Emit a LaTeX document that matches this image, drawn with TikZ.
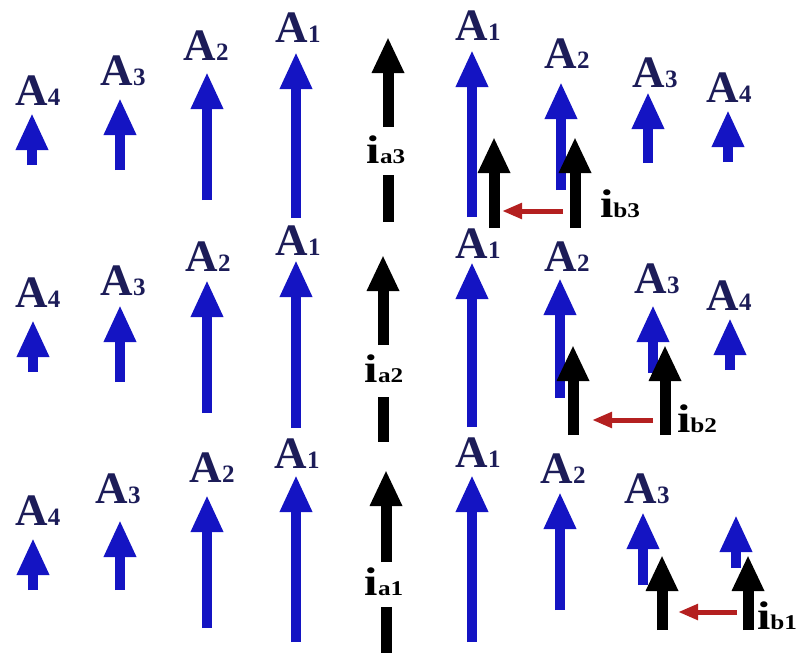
\documentclass[tikz,border=0pt]{standalone}
\usepackage{fontspec}
\setmainfont{Liberation Serif}
\usepackage{graphicx}
\usetikzlibrary{arrows.meta}

\definecolor{vecblue}{RGB}{20,20,195}
\definecolor{labnavy}{RGB}{28,28,88}
\definecolor{shiftred}{RGB}{180,32,32}

\newcommand{\Alab}[1]{A{\fontsize{25}{25}\selectfont #1}}
\newcommand{\ilab}[2]{\scalebox{1.2}[1]{\fontsize{40}{40}\selectfont i{\fontsize{21}{21}\selectfont #1#2}}}

\begin{document}
\begin{tikzpicture}[
  x=1pt, y=-1pt,
  vec/.style={draw=vecblue, line width=10pt, -{Triangle[length=37pt,width=30pt]}},
  cur/.style={draw=black, line width=11pt, -{Triangle[length=36pt,width=30pt]}},
  seg/.style={draw=black, line width=11pt},
  shiftarrow/.style={draw=shiftred, line width=5pt, -{Triangle[length=20pt,width=15pt]}},
  alab/.style={text=labnavy, font=\bfseries\fontsize{45}{45}\selectfont, anchor=base, inner sep=0pt},
  ilab/.style={text=black, font=\bfseries, anchor=base, inner sep=0pt}
]
\useasboundingbox (0,0) rectangle (805,653);

% top row
\draw[vec] (32,165)  -- (32,113);
\draw[vec] (120,170) -- (120,98);
\draw[vec] (207,200) -- (207,72);
\draw[vec] (296,218) -- (296,52);
\draw[vec] (472,217) -- (472,50);
\draw[vec] (561,190) -- (561,82);
\draw[vec] (648,163) -- (648,92);
\draw[vec] (728,162) -- (728,110);
\draw[cur] (388,127) -- (388,37);
\draw[seg] (388,175) -- (388,222);
\draw[cur] (494,228) -- (494,137);
\draw[cur] (575,228) -- (575,137);
\draw[shiftarrow] (563,211) -- (502,211);

\node[alab] (tA4l) at (38,105)  {\Alab{4}};
\node[alab] (tA3l) at (123,85)  {\Alab{3}};
\node[alab] (tA2l) at (206,60)  {\Alab{2}};
\node[alab] (tA1l) at (298,42)  {\Alab{1}};
\node[alab] (tA1r) at (478,40)  {\Alab{1}};
\node[alab] (tA2r) at (567,68)  {\Alab{2}};
\node[alab] (tA3r) at (655,87)  {\Alab{3}};
\node[alab] (tA4r) at (729,102) {\Alab{4}};
\node[ilab] (ia3)  at (386,163) {\ilab{a}{3}};
\node[ilab] (ib3)  at (620,217) {\ilab{b}{3}};

% middle row
\draw[vec] (33,372)  -- (33,320);
\draw[vec] (120,382) -- (120,305);
\draw[vec] (207,413) -- (207,280);
\draw[vec] (296,428) -- (296,260);
\draw[vec] (472,427) -- (472,262);
\draw[vec] (560,398) -- (560,278);
\draw[vec] (653,373) -- (653,305);
\draw[vec] (730,370) -- (730,318);
\draw[cur] (383,345) -- (383,255);
\draw[seg] (383,397) -- (383,442);
\draw[cur] (573,435) -- (573,345);
\draw[cur] (665,435) -- (665,345);
\draw[shiftarrow] (653,420) -- (592,420);

\node[alab] (mA4l) at (38,307)  {\Alab{4}};
\node[alab] (mA3l) at (123,295) {\Alab{3}};
\node[alab] (mA2l) at (208,271) {\Alab{2}};
\node[alab] (mA1l) at (298,255) {\Alab{1}};
\node[alab] (mA1r) at (478,258) {\Alab{1}};
\node[alab] (mA2r) at (567,271) {\Alab{2}};
\node[alab] (mA3r) at (657,293) {\Alab{3}};
\node[alab] (mA4r) at (729,310) {\Alab{4}};
\node[ilab] (ia2)  at (384,382) {\ilab{a}{2}};
\node[ilab] (ib2)  at (697,432) {\ilab{b}{2}};

% bottom row
\draw[vec] (33,590)  -- (33,538);
\draw[vec] (120,590) -- (120,520);
\draw[vec] (207,628) -- (207,495);
\draw[vec] (296,642) -- (296,475);
\draw[vec] (472,642) -- (472,475);
\draw[vec] (560,610) -- (560,492);
\draw[vec] (643,585) -- (643,512);
\draw[vec] (736,568) -- (736,515);
\draw[cur] (386,562) -- (386,470);
\draw[seg] (386,607) -- (386,653);
\draw[cur] (662,630) -- (662,555);
\draw[cur] (748,630) -- (748,555);
\draw[shiftarrow] (737,612) -- (678,612);

\node[alab] (bA4l) at (38,525)  {\Alab{4}};
\node[alab] (bA3l) at (118,503) {\Alab{3}};
\node[alab] (bA2l) at (212,482) {\Alab{2}};
\node[alab] (bA1l) at (297,468) {\Alab{1}};
\node[alab] (bA1r) at (478,467) {\Alab{1}};
\node[alab] (bA2r) at (563,483) {\Alab{2}};
\node[alab] (bA3r) at (647,503) {\Alab{3}};
\node[ilab] (ia1)  at (384,595) {\ilab{a}{1}};
\node[ilab] (ib1)  at (777,629) {\ilab{b}{1}};
\end{tikzpicture}
\end{document}
